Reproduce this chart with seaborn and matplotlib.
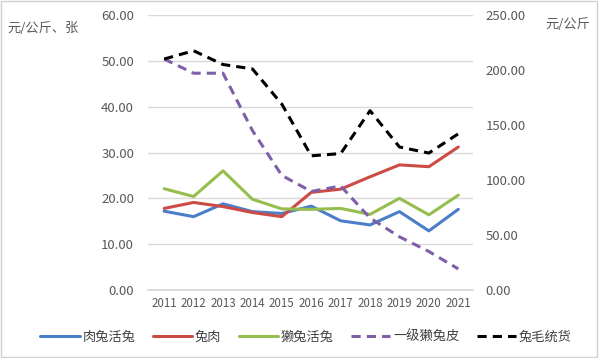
import matplotlib
matplotlib.use("Agg")
import matplotlib.pyplot as plt
import numpy as np
import pandas as pd
import seaborn as sns
from matplotlib.patches import Rectangle

years = [2011, 2012, 2013, 2014, 2015, 2016, 2017, 2018, 2019, 2020, 2021]

# left axis (元/公斤、张)
meat_rabbit_live = [17.2, 16.0, 18.8, 17.1, 16.7, 18.3, 15.1, 14.2, 17.1, 12.9, 17.6]
rabbit_meat = [17.8, 19.1, 18.2, 16.9, 16.0, 21.3, 22.0, 24.7, 27.3, 26.9, 31.2]
rex_rabbit_live = [22.1, 20.4, 26.0, 19.8, 17.7, 17.6, 17.8, 16.5, 20.0, 16.4, 20.7]
rex_pelt_grade1 = [50.4, 47.3, 47.3, 34.8, 25.0, 21.5, 22.7, 15.7, 11.6, 8.4, 4.6]
# right axis (元/公斤)
wool_bulk = [210, 217.5, 205, 201, 169, 122, 124, 163, 130, 124.5, 142]

left_names = ["肉兔活兔", "兔肉", "獭兔活兔", "一级獭兔皮"]
right_name = "兔毛统货"
left_colors = ["#4A7EC9", "#CC4B45", "#96BE4E", "#7E5FA8"]
right_color = "#000000"

sns.set_theme(style="white")
plt.rcParams["font.family"] = ["Noto Sans CJK SC", "DejaVu Sans"]

left_df = pd.DataFrame({
    "year": years * 4,
    "value": meat_rabbit_live + rabbit_meat + rex_rabbit_live + rex_pelt_grade1,
    "series": [n for n in left_names for _ in years],
})
right_df = pd.DataFrame({"year": years, "value": wool_bulk, "series": right_name})

fig = plt.figure(figsize=(6.0, 3.58), dpi=100)
ax = fig.add_axes([148 / 600, 1 - 290 / 358, 325 / 600, 275 / 358])
ax2 = ax.twinx()

sns.lineplot(data=left_df, x="year", y="value", hue="series", style="series",
             hue_order=left_names, style_order=left_names,
             palette=left_colors,
             dashes=["", "", "", (3, 2)], linewidth=2.2, ax=ax, legend=False)
sns.lineplot(data=right_df, x="year", y="value", color=right_color,
             linewidth=2.2, ax=ax2, legend=False)
ax2.lines[0].set_dashes((3, 2))

ax.set_xlim(years[0] - 0.55, years[-1] + 0.5)
ax.set_ylim(0, 60)
ax2.set_ylim(0, 250)
ax.set_yticks(np.arange(0, 61, 10))
ax2.set_yticks(np.arange(0, 251, 50))
ax.set_yticklabels([f"{v:.2f}" for v in np.arange(0, 61, 10)])
ax2.set_yticklabels([f"{v:.2f}" for v in np.arange(0, 251, 50)])
ax.set_xticks(years)
ax.set_xticklabels([str(y) for y in years])

ax.grid(axis="y", color="#D9D9D9", linewidth=1.0)
ax.set_axisbelow(True)
for a in (ax, ax2):
    for s in a.spines.values():
        s.set_visible(False)
    a.set_xlabel("")
    a.set_ylabel("")
ax.spines["bottom"].set_visible(True)
ax.spines["bottom"].set_color("#D9D9D9")
ax.tick_params(axis="y", length=0, pad=10, labelsize=9.5, labelcolor="#595959")
ax2.tick_params(axis="y", length=0, pad=9, labelsize=9.5, labelcolor="#595959")
ax.tick_params(axis="x", length=0, pad=5, labelsize=8.3, labelcolor="#595959")

fig.text(7 / 600, 1 - 29 / 358, "元/公斤、张", fontsize=9.5, color="#595959",
         ha="left", va="center")
fig.text(545 / 600, 1 - 25 / 358, "元/公斤", fontsize=9.5, color="#595959",
         ha="left", va="center")

handles = list(ax.lines[:4]) + [ax2.lines[0]]
labels = left_names + [right_name]
fig.legend(handles, labels, loc="center", bbox_to_anchor=(0.51, 1 - 337 / 358),
           ncol=5, frameon=False, fontsize=9.5, handlelength=3.0,
           columnspacing=1.3, handletextpad=0.2, labelcolor="#404040")

fig.patches.append(Rectangle((0.002, 0.004), 0.993, 0.992, transform=fig.transFigure,
                             fill=False, edgecolor="#D0D0D0", linewidth=1.0))

fig.savefig("out.png", dpi=100)
